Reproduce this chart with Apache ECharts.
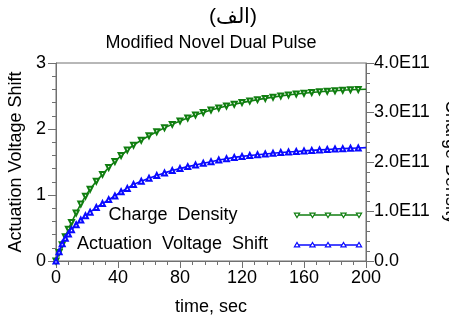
<!DOCTYPE html>
<html>
<head>
<meta charset="utf-8">
<script src="https://cdn.jsdelivr.net/npm/echarts@6/dist/echarts.min.js"></script>
<style>
html,body{margin:0;padding:0;background:#fff;}
#chart{width:449px;height:321px;}
</style>
</head>
<body>
<div id="chart"></div>
<script>
// ---- data ----
const times = [0, 2, 4, 6, 8, 10, 13, 16, 19, 22, 26, 30, 34, 38, 42, 46, 50, 55, 60, 65, 70, 75, 80, 85, 90, 95, 100, 105, 110, 115, 120, 125, 130, 135, 140, 145, 150, 155, 160, 165, 170, 175, 180, 185, 190, 195, 200];
const actuationVoltageShift = [0, 0.14, 0.26, 0.345, 0.41, 0.475, 0.55, 0.62, 0.685, 0.74, 0.81, 0.87, 0.93, 0.985, 1.05, 1.10, 1.16, 1.21, 1.255, 1.295, 1.335, 1.37, 1.40, 1.43, 1.455, 1.48, 1.505, 1.53, 1.55, 1.57, 1.585, 1.598, 1.61, 1.622, 1.633, 1.643, 1.652, 1.66, 1.668, 1.676, 1.683, 1.69, 1.696, 1.702, 1.708, 1.713, 1.718];
const chargeDensity = [0, 0.17e11, 0.33e11, 0.49e11, 0.64e11, 0.78e11, 0.97e11, 1.15e11, 1.31e11, 1.45e11, 1.61e11, 1.75e11, 1.89e11, 2.01e11, 2.13e11, 2.24e11, 2.34e11, 2.44e11, 2.53e11, 2.61e11, 2.69e11, 2.76e11, 2.83e11, 2.89e11, 2.95e11, 3.00e11, 3.05e11, 3.09e11, 3.13e11, 3.165e11, 3.20e11, 3.23e11, 3.26e11, 3.285e11, 3.31e11, 3.335e11, 3.355e11, 3.375e11, 3.39e11, 3.405e11, 3.42e11, 3.43e11, 3.44e11, 3.45e11, 3.46e11, 3.465e11, 3.47e11];
const xTicks = {min: 0, max: 200, interval: 40};
const leftTicks = {min: 0, max: 3, interval: 1};
const rightTicks = {min: 0, max: 4e11, interval: 1e11};
const titleText = 'Modified Novel Dual Pulse';
const topText = '(الف)';
const seriesNames = ['Charge  Density', 'Actuation  Voltage  Shift'];

// ---- styling ----
const FONT = 'Liberation Sans, Arial, Helvetica, sans-serif';
const GREEN = '#107e10';
const BLUE = '#0a0aff';
const AXIS = '#707070';

function pairs(xs, ys) {
  return xs.map((t, i) => {
    const item = {value: [t, ys[i]]};
    if (i === xs.length - 1) item.symbol = 'none';
    return item;
  });
}

function axisCommon() {
  return {
    axisLine: {show: true, lineStyle: {color: AXIS, width: 1}},
    axisTick: {show: true, inside: false, length: 8, lineStyle: {color: AXIS}},
    minorTick: {show: true, splitNumber: 5, length: 4, lineStyle: {color: AXIS}},
    splitLine: {show: false},
    axisLabel: {color: '#000', fontSize: 18, fontFamily: FONT},
    nameTextStyle: {color: '#000', fontSize: 18, fontFamily: FONT}
  };
}

const gridL = 56, gridR = 366, gridT = 63, gridB = 261;

function legendSample(y, color, down) {
  const children = [{
    type: 'line',
    shape: {x1: 295, y1: y, x2: 361, y2: y},
    style: {stroke: color, lineWidth: 1.6}
  }];
  [297, 312.5, 328, 343.5, 359].forEach(cx => {
    const pts = down
      ? [[cx - 2.6, y - 1.8], [cx + 2.6, y - 1.8], [cx, y + 2.6]]
      : [[cx - 2.6, y + 1.8], [cx + 2.6, y + 1.8], [cx, y - 2.6]];
    children.push({
      type: 'polygon',
      shape: {points: pts},
      style: {fill: '#fff', stroke: color, lineWidth: 1.2}
    });
  });
  return {type: 'group', children};
}

const chart = echarts.init(document.getElementById('chart'), null, {renderer: 'canvas'});
chart.setOption({
  backgroundColor: '#fff',
  animation: false,
  grid: {left: gridL, right: 449 - gridR, top: gridT, bottom: 321 - gridB, outerBoundsMode: 'none', containLabel: false,
    show: true, borderColor: AXIS, borderWidth: 1, backgroundColor: 'transparent'},
  xAxis: Object.assign(axisCommon(), {
    type: 'value', min: xTicks.min, max: xTicks.max, interval: xTicks.interval,
    name: 'time, sec', nameLocation: 'middle', nameGap: 37,
    axisTick: {show: true, length: 7, lineStyle: {color: AXIS}},
    axisLabel: {color: '#000', fontSize: 18, fontFamily: FONT, margin: 8}
  }),
  yAxis: [
    Object.assign(axisCommon(), {
      type: 'value', position: 'left', min: leftTicks.min, max: leftTicks.max, interval: leftTicks.interval,
      name: 'Actuation Voltage Shift', nameLocation: 'middle', nameGap: 30, nameRotate: 90,
      axisLabel: {color: '#000', fontSize: 18, fontFamily: FONT, margin: 10}
    }),
    Object.assign(axisCommon(), {
      type: 'value', position: 'right', min: rightTicks.min, max: rightTicks.max, interval: rightTicks.interval,
      name: 'Charge Density', nameLocation: 'middle', nameGap: 76, nameRotate: -90,
      axisLabel: {color: '#000', fontSize: 18, fontFamily: FONT, margin: 8,
        formatter: v => v === 0 ? '0.0' : (v / 1e11).toFixed(1) + 'E11'}
    })
  ],
  series: [
    {
      name: seriesNames[0], type: 'line', yAxisIndex: 1,
      data: pairs(times, chargeDensity),
      symbol: 'emptyTriangle', symbolRotate: 180, symbolSize: 5,
      lineStyle: {color: GREEN, width: 1.6},
      itemStyle: {color: GREEN, borderColor: GREEN, borderWidth: 1.2},
      z: 2
    },
    {
      name: seriesNames[1], type: 'line', yAxisIndex: 0,
      data: pairs(times, actuationVoltageShift),
      symbol: 'emptyTriangle', symbolSize: 5,
      lineStyle: {color: BLUE, width: 1.6},
      itemStyle: {color: BLUE, borderColor: BLUE, borderWidth: 1.2},
      z: 3
    }
  ],
  graphic: [
    {type: 'text', x: 233, y: 17, style: {text: topText, fill: '#000', font: '21px ' + FONT, textAlign: 'center', textVerticalAlign: 'middle'}},
    {type: 'text', x: 211, y: 43, style: {text: titleText, fill: '#000', font: '18px ' + FONT, textAlign: 'center', textVerticalAlign: 'middle'}},
    {type: 'text', x: 173, y: 215, z: 10, style: {text: seriesNames[0], fill: '#000', font: '18px ' + FONT, textAlign: 'center', textVerticalAlign: 'middle'}},
    {type: 'text', x: 172.5, y: 244, z: 10, style: {text: seriesNames[1], fill: '#000', font: '18px ' + FONT, textAlign: 'center', textVerticalAlign: 'middle'}},
    Object.assign(legendSample(215, GREEN, true), {z: 10}),
    Object.assign(legendSample(245, BLUE, false), {z: 10})
  ]
});
</script>
</body>
</html>
